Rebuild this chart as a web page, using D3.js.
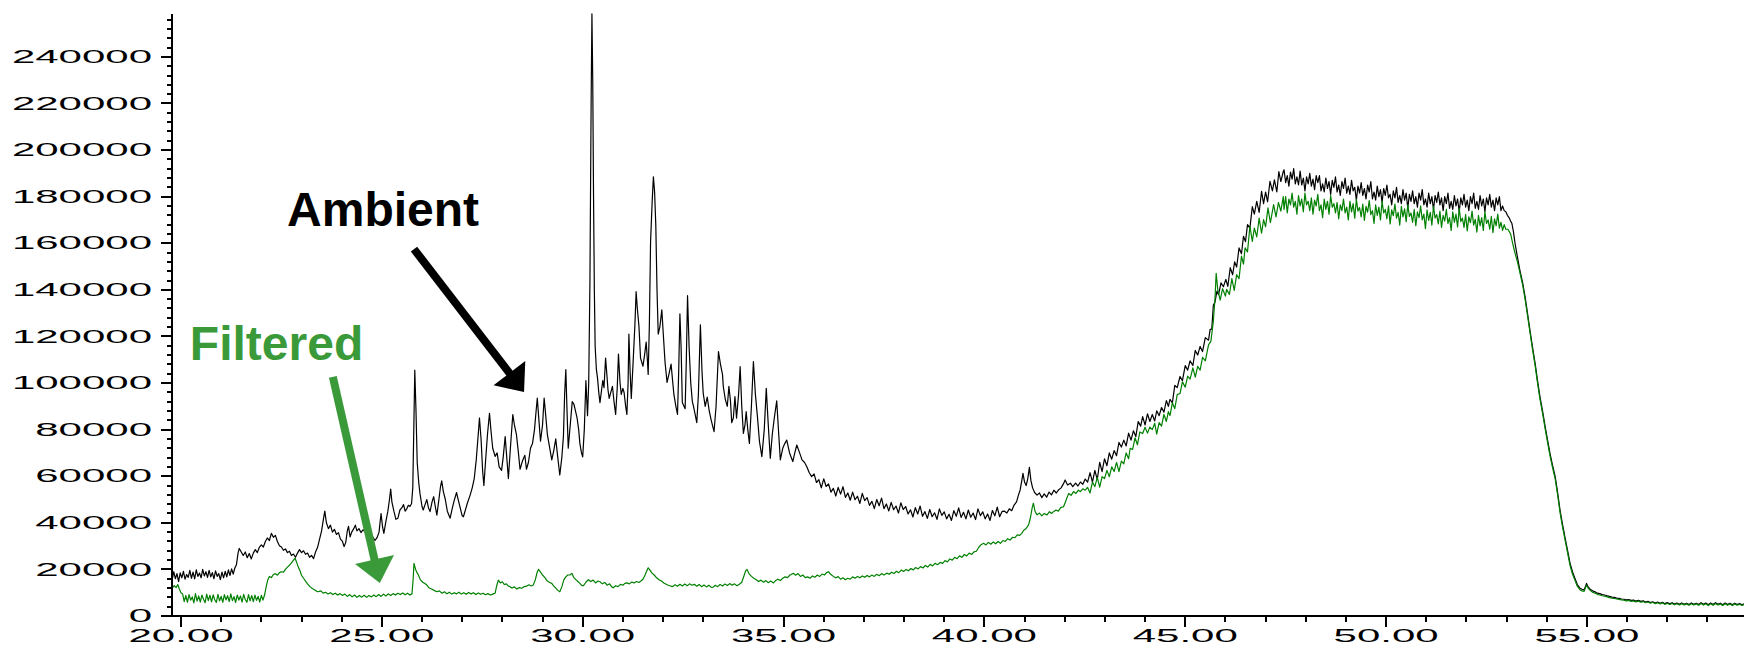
<!DOCTYPE html>
<html>
<head>
<meta charset="utf-8">
<script src="https://cdn.jsdelivr.net/npm/d3@7"></script>
<style>
  html, body { margin: 0; padding: 0; background: #fff; }
  svg { display: block; }
  text { font-family: "Liberation Sans", Arial, sans-serif; }
</style>
</head>
<body>
<script>
// ---- data (time in minutes, intensity in thousands of counts) ----
const ambientK = [
[19.78,15.5],[19.82,19.0],[19.86,16.0],[19.9,18.2],[19.94,14.8],[19.98,18.5],[20.02,16.4],[20.06,19.2],[20.1,15.8],[20.14,17.8],
[20.18,16.6],[20.22,19.6],[20.26,16.2],[20.3,18.8],[20.34,15.9],[20.38,19.8],[20.42,17.0],[20.46,18.4],[20.5,16.4],[20.54,20.0],
[20.58,17.2],[20.62,19.0],[20.66,16.6],[20.7,19.6],[20.74,16.8],[20.78,18.6],[20.82,16.0],[20.86,19.4],[20.9,17.0],[20.94,18.2],
[20.98,15.6],[21.02,18.8],[21.06,16.4],[21.1,19.2],[21.14,16.8],[21.18,19.8],[21.22,17.4],[21.26,20.2],[21.3,18.0],[21.34,20.6],
[21.38,22.0],[21.42,27.0],[21.45,29.0],[21.5,27.5],[21.55,26.0],[21.6,27.5],[21.65,25.0],[21.7,26.8],[21.75,24.5],
[21.8,27.0],[21.85,28.5],[21.9,27.2],[21.95,29.5],[22.0,30.5],[22.05,29.6],[22.1,32.0],[22.15,33.5],[22.2,32.4],[22.25,35.5],
[22.3,33.8],[22.35,34.6],[22.4,32.0],[22.45,30.2],[22.5,29.6],[22.55,28.2],[22.6,28.8],[22.65,27.2],[22.7,27.8],[22.75,26.0],
[22.8,26.6],[22.85,25.2],[22.9,27.0],[22.95,28.5],[23.0,27.2],[23.05,28.0],[23.1,26.5],[23.15,27.0],[23.2,25.2],[23.25,26.0],
[23.3,24.6],[23.35,27.5],[23.4,29.5],[23.45,33.0],[23.5,36.5],[23.55,42.0],[23.58,45.0],[23.62,40.0],[23.67,37.5],[23.72,39.0],
[23.77,36.0],[23.82,37.2],[23.87,35.0],[23.92,35.8],[23.97,33.0],[24.02,32.0],[24.06,29.8],[24.1,31.5],[24.14,36.5],[24.17,38.5],
[24.21,34.0],[24.25,36.0],[24.3,37.5],[24.34,39.0],[24.38,36.5],[24.43,37.5],[24.48,35.8],[24.53,37.0],[24.58,36.2],[24.63,34.5],
[24.68,34.8],[24.73,33.0],[24.78,33.8],[24.83,32.4],[24.88,33.6],[24.93,36.0],[24.98,44.0],[25.02,38.0],[25.05,35.5],[25.1,40.5],
[25.15,45.0],[25.19,50.0],[25.22,54.5],[25.25,49.0],[25.3,45.0],[25.35,41.5],[25.4,42.0],[25.45,45.5],[25.5,46.5],[25.54,47.8],
[25.58,45.0],[25.62,46.0],[25.66,47.5],[25.7,47.0],[25.74,48.3],[25.77,55.0],[25.8,85.0],[25.82,105.5],[25.85,88.0],[25.88,66.0],
[25.92,57.0],[25.95,52.5],[26.0,47.0],[26.03,45.5],[26.08,48.0],[26.12,50.0],[26.16,46.5],[26.2,44.8],[26.25,49.0],[26.29,51.2],
[26.33,47.0],[26.37,43.3],[26.42,50.0],[26.46,55.5],[26.49,58.0],[26.53,53.5],[26.58,50.0],[26.63,45.0],[26.7,42.0],[26.75,46.0],
[26.8,49.5],[26.86,53.0],[26.9,50.0],[26.95,46.5],[27.0,43.0],[27.03,42.6],[27.08,45.5],[27.13,48.5],[27.2,52.0],[27.25,55.0],
[27.3,59.0],[27.35,67.0],[27.4,78.0],[27.43,85.0],[27.47,76.0],[27.51,62.0],[27.54,56.0],[27.58,66.0],[27.63,78.0],[27.68,87.0],
[27.72,79.0],[27.76,72.0],[27.82,68.5],[27.87,70.0],[27.92,64.0],[27.98,62.5],[28.02,68.0],[28.07,77.0],[28.11,68.0],[28.15,59.0],
[28.2,72.0],[28.26,86.5],[28.3,82.0],[28.35,78.0],[28.4,70.0],[28.44,63.0],[28.5,66.5],[28.56,69.0],[28.6,63.0],[28.65,66.0],
[28.7,72.0],[28.75,74.0],[28.8,80.0],[28.84,88.0],[28.87,93.5],[28.91,84.0],[28.95,75.0],[29.0,82.0],[29.04,93.5],[29.08,86.0],
[29.12,78.0],[29.16,74.0],[29.2,70.0],[29.23,67.0],[29.28,71.0],[29.33,76.0],[29.38,68.0],[29.43,60.5],[29.48,68.0],[29.52,77.0],
[29.55,95.0],[29.58,105.8],[29.61,88.0],[29.64,72.0],[29.67,78.0],[29.7,84.0],[29.74,92.0],[29.78,91.0],[29.82,88.0],[29.86,85.0],
[29.9,80.0],[29.93,74.0],[29.97,70.0],[30.0,68.3],[30.04,80.0],[30.08,101.0],[30.12,86.0],[30.15,100.0],[30.18,143.0],[30.21,220.0],
[30.23,258.5],[30.25,230.0],[30.27,180.0],[30.29,140.0],[30.31,115.8],[30.34,106.0],[30.37,102.0],[30.4,96.0],[30.43,91.6],[30.47,97.0],
[30.5,101.0],[30.53,98.0],[30.57,110.7],[30.6,104.0],[30.63,97.0],[30.66,93.4],[30.7,96.0],[30.74,98.6],[30.78,92.0],[30.82,86.5],
[30.86,98.0],[30.89,112.4],[30.93,100.0],[30.96,95.1],[31.0,97.7],[31.03,96.0],[31.07,90.0],[31.1,86.5],[31.13,100.0],[31.15,121.0],
[31.18,105.0],[31.21,93.4],[31.26,110.7],[31.3,125.0],[31.33,139.2],[31.36,132.0],[31.4,124.5],[31.44,110.7],[31.5,107.2],[31.54,112.0],
[31.58,117.6],[31.61,110.0],[31.63,103.7],[31.66,125.0],[31.69,160.8],[31.73,178.0],[31.76,188.5],[31.79,182.0],[31.82,167.7],[31.85,140.0],
[31.88,121.0],[31.92,124.0],[31.97,131.4],[32.01,120.0],[32.05,108.9],[32.1,100.3],[32.15,104.0],[32.2,108.1],[32.27,95.1],[32.32,90.0],
[32.36,86.5],[32.39,105.0],[32.42,129.7],[32.45,115.0],[32.48,91.6],[32.55,89.0],[32.58,110.0],[32.61,137.5],[32.65,115.0],[32.69,100.0],
[32.73,92.0],[32.76,89.9],[32.84,83.0],[32.88,95.0],[32.93,125.0],[32.97,105.0],[33.0,95.6],[33.05,90.0],[33.1,94.0],[33.15,88.0],
[33.2,84.0],[33.27,79.1],[33.32,90.0],[33.38,113.5],[33.43,108.0],[33.48,103.7],[33.5,98.5],[33.55,93.0],[33.6,90.0],[33.64,98.6],
[33.68,92.0],[33.71,83.0],[33.75,85.0],[33.79,94.2],[33.83,84.9],[33.88,95.0],[33.92,107.0],[33.96,90.0],[34.0,78.4],[34.04,82.0],
[34.07,87.7],[34.11,80.0],[34.15,74.1],[34.2,90.0],[34.25,109.2],[34.3,95.0],[34.35,85.6],[34.4,75.0],[34.46,68.4],[34.52,80.0],
[34.57,97.7],[34.62,82.0],[34.67,67.7],[34.72,78.0],[34.77,85.0],[34.83,92.4],[34.88,78.0],[34.92,67.0],[34.98,72.0],[35.03,74.0],
[35.08,75.5],[35.15,70.0],[35.23,66.3],[35.28,70.0],[35.33,73.4],[35.4,70.0],[35.46,67.0],[35.52,66.0],[35.58,64.1],[35.64,61.5],
[35.7,59.8],[35.76,61.0],[35.82,57.3],[35.88,58.5],[35.94,55.0],[36.0,58.9],[36.06,55.6],[36.12,56.7],[36.18,53.2],[36.24,54.8],
[36.3,51.5],[36.36,55.2],[36.42,52.3],[36.48,55.5],[36.54,50.9],[36.6,52.8],[36.66,49.7],[36.72,53.2],[36.78,49.9],[36.84,51.4],
[36.9,48.3],[36.96,52.6],[37.02,49.5],[37.08,50.8],[37.14,47.5],[37.2,49.2],[37.26,46.1],[37.32,50.0],[37.38,47.3],[37.44,50.6],
[37.5,46.1],[37.56,48.1],[37.62,45.1],[37.68,48.8],[37.74,45.6],[37.8,47.2],[37.86,44.2],[37.92,48.6],[37.98,45.7],[38.04,47.0],
[38.1,43.8],[38.16,45.6],[38.22,42.5],[38.28,46.5],[38.34,43.8],[38.4,47.2],[38.46,42.8],[38.52,44.8],[38.58,41.9],[38.64,45.7],
[38.7,42.6],[38.76,44.3],[38.82,41.5],[38.88,46.0],[38.94,43.2],[39.0,44.7],[39.06,41.7],[39.12,43.7],[39.18,41.0],[39.24,45.2],
[39.3,42.8],[39.36,46.4],[39.42,42.3],[39.48,44.5],[39.54,41.7],[39.6,45.5],[39.66,42.4],[39.72,44.2],[39.78,41.4],[39.84,46.0],
[39.9,43.1],[39.96,44.7],[40.02,41.7],[40.08,43.8],[40.14,41.0],[40.2,45.3],[40.26,43.0],[40.32,46.7],[40.38,42.6],[40.44,44.9],
[40.5,45.0],[40.56,44.2],[40.62,46.0],[40.68,45.2],[40.74,47.6],[40.8,49.0],[40.85,52.0],[40.89,54.1],[40.93,58.0],[40.96,61.2],
[41.0,57.5],[41.04,56.0],[41.08,59.0],[41.12,63.8],[41.16,58.0],[41.2,55.0],[41.25,53.0],[41.31,51.9],[41.37,52.8],[41.43,50.8],
[41.49,52.4],[41.55,51.0],[41.61,53.2],[41.67,52.0],[41.73,54.0],[41.79,52.8],[41.85,54.2],[41.91,55.0],[41.97,56.8],[42.01,58.4],
[42.07,56.2],[42.14,57.0],[42.2,55.5],[42.27,57.0],[42.33,55.8],[42.39,57.5],[42.45,56.5],[42.51,58.8],[42.57,57.5],
[42.63,61.5],[42.69,57.5],[42.75,62.5],[42.81,58.5],[42.87,66.0],[42.93,62.0],[42.99,67.5],[43.05,64.5],[43.11,70.0],[43.17,67.3],
[43.23,71.0],[43.29,68.8],[43.35,74.5],[43.41,72.5],[43.47,75.5],[43.53,73.0],[43.59,78.5],[43.65,75.5],[43.71,79.5],[43.77,77.0],
[43.83,83.5],[43.89,81.5],[43.94,85.6],[44.0,82.0],[44.06,86.8],[44.12,83.5],[44.18,86.5],[44.24,83.7],[44.29,88.1],[44.35,86.0],
[44.41,89.5],[44.47,87.5],[44.53,92.5],[44.58,90.0],[44.62,93.0],[44.68,91.5],[44.74,99.0],[44.8,98.0],[44.87,102.8],[44.93,101.0],
[45.0,107.5],[45.06,105.5],[45.12,109.5],[45.19,107.5],[45.25,114.0],[45.31,112.0],[45.37,115.7],[45.43,113.5],[45.5,119.5],[45.58,118.4],
[45.62,123.0],[45.66,123.1],[45.7,133.5],[45.74,134.7],[45.79,139.5],[45.83,137.9],[45.89,143.0],[45.95,141.3],[46.01,144.5],[46.06,141.5],
[46.12,149.5],[46.18,146.5],[46.23,152.0],[46.28,149.8],[46.34,158.0],[46.4,155.5],[46.45,163.0],[46.5,160.7],[46.55,168.0],[46.61,166.5],
[46.67,175.7],[46.72,172.5],[46.78,178.0],[46.84,173.2],[46.9,182.3],[46.95,177.0],[47.0,182.0],[47.05,177.8],[47.11,186.6],[47.17,182.5],
[47.22,187.2],[47.28,182.0],[47.33,190.7],[47.38,186.5],[47.44,190.8],
[47.46,191.5],[47.5,186.0],[47.54,189.0],[47.58,184.5],[47.62,190.5],[47.66,187.5],[47.7,192.0],[47.74,185.5],[47.78,188.5],[47.82,185.0],[47.86,191.0],
[47.9,185.0],[47.94,188.0],[47.98,182.5],[48.02,188.5],[48.06,185.5],[48.1,190.0],[48.14,184.5],[48.18,187.5],[48.22,183.0],[48.26,189.0],[48.3,186.0],
[48.34,189.0],[48.38,182.5],[48.42,185.5],[48.46,182.0],[48.5,188.0],[48.54,183.5],[48.58,186.5],[48.62,181.0],[48.66,187.0],[48.7,184.0],[48.74,188.5],
[48.78,182.0],[48.82,185.0],[48.86,180.5],[48.9,186.5],[48.94,183.5],[48.98,188.0],[49.02,181.5],[49.06,184.5],[49.1,181.0],[49.14,187.0],[49.18,182.5],
[49.22,184.0],[49.26,178.5],[49.3,184.5],[49.34,181.5],[49.38,186.0],[49.42,180.5],[49.46,183.5],[49.5,179.0],[49.54,185.0],[49.58,182.0],[49.62,186.5],
[49.66,179.0],[49.7,182.0],[49.74,178.5],[49.78,184.5],[49.82,180.0],[49.86,183.0],[49.9,177.5],[49.94,183.5],[49.98,180.5],[50.02,185.0],[50.06,179.5],
[50.1,181.0],[50.14,176.5],[50.18,182.5],[50.22,179.5],[50.26,184.0],[50.3,177.5],[50.34,180.5],[50.38,177.0],[50.42,183.0],[50.46,178.5],[50.5,181.5],
[50.54,175.0],[50.58,181.0],[50.62,178.0],[50.66,182.5],[50.7,177.0],[50.74,180.0],[50.78,175.5],[50.82,181.5],[50.86,178.5],[50.9,183.0],[50.94,176.5],
[50.98,179.0],[51.02,175.5],[51.06,181.5],[51.1,177.0],[51.14,180.0],[51.18,174.5],[51.22,180.5],[51.26,177.5],[51.3,182.0],[51.34,176.5],[51.38,179.5],
[51.42,174.0],[51.46,180.0],[51.5,177.0],[51.54,181.5],[51.58,175.0],[51.62,178.0],[51.66,174.5],[51.7,180.5],[51.74,176.0],[51.78,179.0],[51.82,173.5],
[51.86,179.5],[51.9,176.5],[51.94,181.0],[51.98,175.5],[52.02,178.5],[52.06,174.0],[52.1,180.0],[52.14,177.0],[52.18,181.5],[52.22,175.0],[52.26,178.0],
[52.3,174.5],[52.34,180.5],[52.38,176.0],[52.42,179.0],[52.46,173.5],[52.5,179.5],[52.54,176.5],[52.58,181.0],[52.62,175.5],[52.66,178.5],[52.7,174.0],
[52.74,179.5],[52.78,176.5],[52.82,180.0],[52.86,174.0],[52.9,176.0],[52.94,174.0],[52.98,173.5],
[53.02,172.0],[53.06,171.0],[53.1,169.5],[53.13,168.6],
[53.17,165.0],[53.21,160.0],[53.27,154.0],[53.33,148.5],[53.4,143.0],[53.46,137.1],[53.52,130.0],[53.58,122.8],[53.64,116.0],[53.71,108.5],
[53.77,101.0],[53.83,94.2],[53.9,87.5],[53.96,81.3],[54.02,75.5],[54.08,69.8],[54.14,65.0],[54.21,59.8],[54.27,53.0],[54.33,45.5],
[54.39,39.5],[54.45,34.1],[54.52,28.0],[54.58,22.6],[54.64,19.0],[54.7,16.2],[54.76,13.5],[54.83,11.9],[54.88,11.5],[54.93,11.2],
[54.97,13.0],[54.99,14.0],[55.03,12.5],[55.08,11.5],[55.14,10.8],[55.2,10.4],[55.26,9.8],[55.32,9.6],[55.38,9.2],[55.44,9.0],
[55.5,8.7],[55.56,8.4],[55.62,8.1],[55.68,8.0],[55.74,7.7],[55.8,7.6],[55.86,7.3],[55.92,7.2],[55.98,6.9],[56.04,7.0],
[56.1,6.7],[56.16,6.8],[56.22,6.4],[56.28,6.7],[56.34,6.3],[56.4,6.5],[56.46,6.0],[56.52,6.3],[56.58,5.8],[56.64,6.1],
[56.7,5.6],[56.76,6.0],[56.82,5.5],[56.88,5.9],[56.94,5.3],[57.0,5.8],[57.06,5.2],[57.12,5.7],[57.18,5.1],[57.24,5.6],
[57.3,5.0],[57.36,5.6],[57.42,5.0],[57.48,5.5],[57.54,4.9],[57.6,5.6],[57.66,5.0],[57.72,5.5],[57.78,4.9],[57.84,5.7],
[57.9,5.0],[57.96,5.6],[58.02,4.8],[58.08,5.6],[58.14,4.9],[58.2,5.7],[58.26,5.0],[58.32,5.5],[58.38,4.8],[58.44,5.6],
[58.5,4.9],[58.56,5.5],[58.62,4.8],[58.68,5.5],[58.74,4.9],[58.8,5.4],[58.86,4.8],[58.91,5.2]
];

const filteredK = [
[19.78,12.0],[19.83,13.0],[19.88,12.2],[19.92,13.5],[19.96,11.5],[20.0,10.0],
[20.04,9.5],[20.08,6.2],[20.12,8.8],[20.16,5.9],[20.2,9.2],[20.24,6.8],[20.28,8.2],[20.32,5.6],[20.36,9.6],[20.4,6.4],
[20.44,8.6],[20.48,6.0],[20.52,9.0],[20.56,7.2],[20.6,5.7],[20.64,9.4],[20.68,6.6],[20.72,8.9],[20.76,6.1],[20.8,9.1],
[20.84,7.0],[20.88,5.8],[20.92,9.3],[20.96,6.5],[21.0,8.4],[21.04,5.9],[21.08,9.2],[21.12,6.9],[21.16,8.7],[21.2,6.2],
[21.24,9.5],[21.28,6.6],[21.32,8.3],[21.36,5.8],[21.4,9.0],[21.44,6.8],[21.48,8.6],[21.52,6.0],[21.56,9.3],[21.6,7.1],
[21.64,5.9],[21.68,9.2],[21.72,6.5],[21.76,8.8],[21.8,6.2],[21.84,9.0],[21.88,6.7],[21.92,8.4],[21.96,6.0],[22.0,8.9],
[22.04,6.8],[22.08,9.0],[22.12,12.5],[22.16,15.5],
[22.2,17.0],[22.25,16.5],[22.3,17.8],[22.35,18.2],[22.4,17.5],[22.45,18.6],[22.5,19.0],[22.55,18.8],[22.6,20.0],[22.65,21.0],
[22.7,21.8],[22.75,22.8],[22.8,24.0],[22.84,24.8],[22.88,23.0],[22.92,21.0],[22.96,19.5],[23.0,17.5],[23.05,16.2],[23.1,15.0],
[23.15,13.8],[23.21,12.6],[23.27,11.8],[23.33,11.2],[23.38,10.6],[23.42,10.4],[23.48,10.8],[23.54,9.8],[23.6,10.2],[23.66,9.4],
[23.72,10.0],[23.78,9.2],[23.84,9.8],[23.9,9.0],[23.96,9.6],[24.02,8.8],[24.08,9.4],[24.14,8.4],[24.2,9.2],[24.26,8.2],
[24.32,9.0],[24.38,8.0],[24.44,8.8],[24.5,8.1],[24.56,8.9],[24.62,8.0],[24.68,8.8],[24.74,8.2],[24.8,9.0],[24.86,8.3],
[24.92,9.2],[24.98,8.4],[25.04,9.4],[25.1,8.6],[25.16,9.5],[25.22,8.8],[25.28,9.6],[25.34,9.0],[25.4,9.8],[25.46,9.2],
[25.52,9.9],[25.58,9.1],[25.64,9.8],[25.7,9.0],[25.75,9.5],[25.78,16.0],[25.8,22.6],[25.84,20.0],[25.88,18.5],[25.91,17.6],
[25.96,15.5],[26.02,14.5],[26.08,13.8],[26.12,13.3],[26.18,12.0],[26.24,11.6],[26.3,11.0],[26.37,10.4],[26.43,10.8],[26.5,9.8],
[26.56,10.4],[26.62,9.5],[26.68,10.2],[26.74,9.4],[26.8,10.0],[26.86,9.5],[26.92,10.2],[26.98,9.4],[27.04,10.0],[27.1,9.3],
[27.16,10.1],[27.22,9.5],[27.28,10.0],[27.34,9.2],[27.4,9.9],[27.46,9.3],[27.52,9.8],[27.58,9.1],[27.64,9.6],[27.7,9.0],
[27.76,9.4],[27.82,9.8],[27.86,13.0],[27.9,15.4],[27.95,14.2],[28.0,14.7],[28.05,13.5],[28.1,13.8],[28.15,12.8],[28.19,12.6],
[28.24,12.0],[28.3,12.5],[28.36,11.6],[28.42,12.2],[28.48,11.9],[28.54,12.6],[28.6,12.8],[28.66,13.4],[28.72,12.9],[28.77,13.3],
[28.82,15.5],[28.87,19.0],[28.9,20.0],[28.95,18.8],[29.0,17.6],[29.06,16.5],[29.12,15.0],[29.18,14.4],[29.23,14.0],[29.28,12.8],
[29.33,12.0],[29.38,11.0],[29.43,10.4],[29.48,12.5],[29.53,15.5],[29.58,16.8],[29.63,17.6],[29.68,17.6],[29.73,18.3],[29.78,16.5],
[29.83,15.6],[29.88,14.8],[29.93,14.0],[29.98,13.0],[30.02,13.0],[30.08,14.5],[30.14,15.6],[30.2,14.8],[30.26,15.4],[30.32,14.2],
[30.38,15.0],[30.43,14.7],[30.49,13.8],[30.55,14.4],[30.61,13.2],[30.67,13.8],[30.73,12.4],[30.76,12.1],[30.82,13.0],[30.88,12.6],
[30.94,13.6],[31.0,13.2],[31.05,14.0],[31.1,14.2],[31.16,13.8],[31.22,14.6],[31.28,14.2],[31.34,14.8],[31.4,14.4],[31.45,15.0],
[31.5,15.8],[31.55,17.5],[31.6,19.5],[31.63,20.7],[31.67,19.8],[31.72,18.5],[31.78,17.6],[31.84,16.4],[31.9,15.6],[31.96,15.0],
[32.02,14.2],[32.08,13.6],[32.13,13.2],[32.17,13.0],[32.23,12.6],[32.3,13.4],[32.36,12.8],[32.42,13.6],[32.48,12.9],[32.54,13.7],
[32.6,13.0],[32.66,13.8],[32.72,13.2],[32.78,13.6],[32.84,12.8],[32.9,13.5],[32.96,12.6],[33.02,13.3],[33.08,12.5],[33.14,13.2],
[33.2,12.3],[33.25,12.4],[33.3,13.2],[33.36,12.6],[33.42,13.5],[33.48,12.9],[33.54,13.7],[33.6,13.1],[33.66,13.9],[33.72,13.2],
[33.78,13.8],[33.84,13.0],[33.9,13.6],[33.96,14.5],[34.02,17.5],[34.06,19.5],[34.09,20.0],[34.14,18.2],[34.2,17.0],[34.26,16.2],
[34.32,15.6],[34.38,14.8],[34.44,15.4],[34.5,14.5],[34.56,15.2],[34.62,14.3],[34.68,15.0],[34.75,14.2],[34.8,15.2],[34.86,15.8],
[34.92,15.2],[34.98,16.2],[35.04,16.8],[35.1,16.5],[35.16,17.6],[35.21,18.0],[35.25,18.3],[35.3,17.5],[35.36,18.2],[35.42,17.0],
[35.48,17.6],[35.54,16.5],[35.6,16.8],[35.66,16.2],[35.72,17.2],[35.78,16.6],[35.84,17.6],[35.9,17.0],[35.96,18.0],[36.02,17.6],
[36.07,18.6],[36.12,19.0],[36.18,17.8],[36.24,17.0],[36.3,16.4],[36.36,16.9],[36.42,15.8],[36.48,16.4],[36.54,15.6],[36.6,16.2],
[36.66,15.8],[36.72,16.8],[36.78,16.2],[36.84,17.0],[36.9,16.4],[36.96,17.2],[37.02,16.6],[37.08,17.4],[37.14,16.8],[37.2,17.6],
[37.26,17.0],[37.32,17.9],[37.38,17.3],[37.44,18.2],[37.5,17.6],[37.57,18.4],[37.63,17.9],[37.69,18.8],[37.75,18.2],[37.81,19.2],
[37.87,18.6],[37.93,19.7],[37.99,19.1],[38.05,20.0],[38.11,19.4],[38.17,20.4],[38.23,19.8],[38.29,20.8],[38.35,20.2],[38.41,21.2],
[38.47,20.6],[38.53,21.7],[38.59,21.0],[38.65,22.2],[38.71,21.5],[38.77,22.6],[38.83,22.0],[38.9,23.0],[38.96,22.6],[39.02,23.8],
[39.08,23.2],[39.14,24.5],[39.2,24.0],[39.26,25.2],[39.32,24.6],[39.38,25.8],[39.44,25.2],[39.5,26.4],[39.56,25.8],[39.62,27.0],
[39.68,26.4],[39.74,27.5],[39.8,27.8],[39.86,29.5],[39.92,30.6],[39.98,31.2],[40.04,30.5],[40.1,31.6],[40.16,30.8],[40.22,31.8],
[40.28,31.0],[40.34,32.0],[40.4,31.2],[40.46,32.4],[40.52,32.0],[40.58,33.2],[40.64,32.6],[40.7,33.8],[40.76,33.6],[40.82,34.8],
[40.88,34.6],[40.93,35.5],[40.98,36.8],[41.04,37.6],[41.1,39.1],[41.15,42.5],[41.19,46.5],[41.22,48.4],[41.26,45.0],[41.31,43.4],
[41.37,44.2],[41.43,43.0],[41.49,44.0],[41.56,43.4],[41.62,44.8],[41.67,44.0],[41.72,44.8],[41.78,45.5],[41.84,45.0],[41.9,46.5],
[41.97,46.9],[42.02,49.0],[42.06,51.0],[42.1,52.6],[42.16,51.8],[42.22,53.4],[42.28,52.6],[42.34,54.0],[42.39,53.4],[42.45,54.6],
[42.51,54.0],[42.57,55.2],
[42.63,52.8],[42.69,57.5],[42.75,55.5],[42.81,59.5],[42.87,55.3],[42.93,59.8],[42.99,59.0],[43.05,62.5],[43.11,59.8],[43.17,64.0],
[43.23,62.0],[43.29,65.9],[43.35,62.0],[43.41,66.5],[43.47,65.3],[43.53,70.0],[43.59,67.5],[43.63,72.0],[43.69,71.5],[43.75,76.5],
[43.81,73.5],[43.87,79.0],[43.94,78.3],[44.0,81.0],[44.06,78.5],[44.12,81.1],[44.18,80.0],[44.24,82.7],[44.29,78.1],[44.35,83.0],
[44.41,81.5],[44.47,86.5],[44.53,83.5],[44.58,87.7],[44.62,86.0],[44.68,91.5],[44.74,89.0],[44.8,95.0],[44.87,95.5],[44.93,100.5],
[45.0,98.2],[45.06,103.0],[45.12,101.7],[45.19,106.5],[45.25,102.5],[45.31,107.2],[45.37,105.5],[45.43,111.0],[45.5,109.5],[45.58,116.4],
[45.64,118.0],[45.7,126.7],[45.74,136.0],[45.77,147.1],[45.81,140.0],[45.87,135.6],[45.93,140.5],[46.0,137.3],[46.03,140.2],[46.1,138.0],
[46.16,144.8],[46.22,139.8],[46.28,146.5],[46.34,144.8],[46.4,154.5],[46.45,151.0],[46.49,158.0],[46.55,156.3],[46.61,167.3],[46.67,160.8],
[46.72,166.5],[46.78,162.7],[46.84,170.8],[46.9,164.3],[46.95,170.1],[47.0,167.0],[47.06,175.2],[47.12,168.8],[47.2,176.6],[47.26,171.3],
[47.32,177.5],[47.38,173.8],[47.44,180.0],
[47.46,174.5],[47.5,180.0],[47.54,173.0],[47.58,179.0],[47.62,176.5],[47.66,181.5],[47.7,175.5],[47.74,178.0],[47.78,172.5],[47.82,180.5],[47.86,176.0],
[47.9,179.0],[47.94,173.5],[47.98,181.5],[48.02,176.5],[48.06,178.0],[48.1,174.0],[48.14,179.5],[48.18,172.5],[48.22,178.5],[48.26,176.0],[48.3,181.0],
[48.34,174.0],[48.38,176.5],[48.42,171.0],[48.46,179.0],[48.5,174.5],[48.54,178.0],[48.58,172.5],[48.62,180.5],[48.66,175.5],[48.7,177.0],[48.74,173.0],
[48.78,177.5],[48.82,170.5],[48.86,176.5],[48.9,174.0],[48.94,179.0],[48.98,173.0],[49.02,175.5],[49.06,170.0],[49.1,178.0],[49.14,173.5],[49.18,177.0],
[49.22,170.8],[49.26,178.8],[49.3,173.8],[49.34,175.3],[49.38,171.3],[49.42,176.8],[49.46,169.8],[49.5,175.8],[49.54,173.3],[49.58,178.3],[49.62,172.3],
[49.66,174.0],[49.7,168.5],[49.74,176.5],[49.78,172.0],[49.82,175.5],[49.86,170.0],[49.9,178.0],[49.94,173.0],[49.98,174.5],[50.02,170.5],[50.06,176.0],
[50.1,168.3],[50.14,174.3],[50.18,171.8],[50.22,176.8],[50.26,170.8],[50.3,173.3],[50.34,167.8],[50.38,175.8],[50.42,171.3],[50.46,174.8],[50.5,169.3],
[50.54,176.5],[50.58,171.5],[50.62,173.0],[50.66,169.0],[50.7,174.5],[50.74,167.5],[50.78,173.5],[50.82,171.0],[50.86,176.0],[50.9,170.0],[50.94,172.5],
[50.98,166.3],[51.02,174.3],[51.06,169.8],[51.1,173.3],[51.14,167.8],[51.18,175.8],[51.22,170.8],[51.26,172.3],[51.3,168.3],[51.34,173.8],[51.38,166.8],
[51.42,172.0],[51.46,169.5],[51.5,174.5],[51.54,168.5],[51.58,171.0],[51.62,165.5],[51.66,173.5],[51.7,169.0],[51.74,172.5],[51.78,167.0],[51.82,175.0],
[51.86,169.3],[51.9,170.8],[51.94,166.8],[51.98,172.3],[52.02,165.3],[52.06,171.3],[52.1,168.8],[52.14,173.8],[52.18,167.8],[52.22,170.3],[52.26,164.8],
[52.3,172.0],[52.34,167.5],[52.38,171.0],[52.42,165.5],[52.46,173.5],[52.5,168.5],[52.54,170.0],[52.58,166.0],[52.62,171.5],[52.66,164.5],[52.7,170.5],
[52.74,167.5],[52.78,172.5],[52.82,166.5],[52.86,169.0],[52.9,165.5],[52.94,168.0],[52.98,166.0],[53.03,166.0],[53.1,164.0],
[53.15,160.0],[53.21,155.7],[53.27,152.0],[53.33,147.5],[53.4,142.0],[53.46,136.0],[53.52,129.0],[53.58,122.0],[53.64,115.0],[53.71,107.5],
[53.77,100.0],[53.83,93.2],[53.9,86.5],[53.96,80.3],[54.02,74.5],[54.08,68.8],[54.14,64.0],[54.21,58.8],[54.27,52.0],[54.33,44.5],
[54.39,38.5],[54.45,33.1],[54.52,27.0],[54.58,21.6],[54.64,18.0],[54.7,15.4],[54.76,12.8],[54.83,11.2],[54.88,10.8],[54.93,10.6],
[54.97,12.4],[54.99,13.2],[55.03,12.0],[55.08,11.0],[55.14,10.2],[55.2,9.8],[55.26,9.3],[55.32,9.0],[55.38,8.7],[55.44,8.5],
[55.5,8.2],[55.56,7.9],[55.62,7.7],[55.68,7.5],[55.74,7.3],[55.8,7.1],[55.86,6.9],[55.92,6.8],[55.98,6.5],[56.04,6.7],
[56.1,6.3],[56.16,6.5],[56.22,6.0],[56.28,6.4],[56.34,5.9],[56.4,6.2],[56.46,5.7],[56.52,6.0],[56.58,5.5],[56.64,5.9],
[56.7,5.3],[56.76,5.7],[56.82,5.2],[56.88,5.6],[56.94,5.0],[57.0,5.5],[57.06,4.9],[57.12,5.4],[57.18,4.8],[57.24,5.3],
[57.3,4.7],[57.36,5.3],[57.42,4.7],[57.48,5.2],[57.54,4.6],[57.6,5.3],[57.66,4.7],[57.72,5.2],[57.78,4.6],[57.84,5.4],
[57.9,4.7],[57.96,5.3],[58.02,4.5],[58.08,5.3],[58.14,4.6],[58.2,5.4],[58.26,4.7],[58.32,5.2],[58.38,4.5],[58.44,5.3],
[58.5,4.6],[58.56,5.2],[58.62,4.5],[58.68,5.2],[58.74,4.6],[58.8,5.1],[58.86,4.5],[58.91,4.9]
];

const xMajorTicks = [20, 25, 30, 35, 40, 45, 50, 55];
const xMinorTicks = [21,22,23,24,26,27,28,29,31,32,33,34,36,37,38,39,41,42,43,44,46,47,48,49,51,52,53,54,56,57,58];
const yMajorTicks = [0,20000,40000,60000,80000,100000,120000,140000,160000,180000,200000,220000,240000];
const xDomain = [19.776, 58.91];
const yDomain = [0, 258400];

// annotations in data coordinates: [time, intensity]
const labelAmbient = { text: "Ambient", at: [22.64, 167400] };
const labelFiltered = { text: "Filtered", at: [20.22, 109900] };
const arrowAmbient = { from: [25.80, 157500], to: [28.54, 96100] };
const arrowFiltered = { from: [23.78, 102600], to: [24.95, 14200] };

// ---- drawing ----
(function draw() {
  const W = 1744, H = 645;
  const pL = 172, pR = 1744, pT = 14, pB = 616;
  const svg = d3.select("body").append("svg").attr("width", W).attr("height", H);

  const x = d3.scaleLinear().domain(xDomain).range([pL, pR]);
  const y = d3.scaleLinear().domain(yDomain).range([pB, pT]);

  svg.append("defs").append("clipPath").attr("id", "plot")
    .append("rect").attr("x", pL).attr("y", pT - 1).attr("width", pR - pL).attr("height", pB - pT + 1);

  const line = d3.line().x(d => x(d[0])).y(d => y(d[1] * 1000));

  const plot = svg.append("g").attr("clip-path", "url(#plot)");
  plot.append("path").datum(ambientK).attr("d", line)
    .attr("fill", "none").attr("stroke", "#000").attr("stroke-width", 1.2).attr("stroke-linejoin", "round");
  plot.append("path").datum(filteredK).attr("d", line)
    .attr("fill", "none").attr("stroke", "#008000").attr("stroke-width", 1.2).attr("stroke-linejoin", "round");

  const axes = svg.append("g").attr("stroke", "#000").attr("stroke-width", 1.2).attr("shape-rendering", "crispEdges");
  axes.append("line").attr("x1", pL).attr("x2", pL).attr("y1", pT).attr("y2", pB);
  axes.append("line").attr("x1", pL - 11).attr("x2", pR).attr("y1", pB).attr("y2", pB);

  const yMinor = d3.range(0, yDomain[1], 4000).filter(v => v % 20000 !== 0);
  axes.selectAll(".ymin").data(yMinor).enter().append("line")
    .attr("x1", pL - 5).attr("x2", pL).attr("y1", d => Math.round(y(d))).attr("y2", d => Math.round(y(d)));
  axes.selectAll(".ymaj").data(yMajorTicks).enter().append("line")
    .attr("x1", pL - 11).attr("x2", pL).attr("y1", d => Math.round(y(d))).attr("y2", d => Math.round(y(d)));

  axes.selectAll(".xmin").data(xMinorTicks).enter().append("line")
    .attr("x1", d => Math.round(x(d))).attr("x2", d => Math.round(x(d))).attr("y1", pB).attr("y2", pB + 6);
  axes.selectAll(".xmaj").data(xMajorTicks).enter().append("line")
    .attr("x1", d => Math.round(x(d))).attr("x2", d => Math.round(x(d))).attr("y1", pB).attr("y2", pB + 11);

  const stretch = 2.4, fs = 17.5;
  svg.selectAll(".ylab").data(yMajorTicks).enter().append("g")
    .attr("transform", d => `translate(152,${y(d) + 6.2}) scale(${stretch},1)`)
    .append("text").attr("text-anchor", "end").attr("font-size", fs).attr("fill", "#000")
    .text(d => String(d));
  svg.selectAll(".xlab").data(xMajorTicks).enter().append("g")
    .attr("transform", d => `translate(${x(d)},641.8) scale(${stretch},1)`)
    .append("text").attr("text-anchor", "middle").attr("font-size", fs).attr("fill", "#000")
    .text(d => d.toFixed(2));

  function arrow(a, color) {
    const x0 = x(a.from[0]), y0 = y(a.from[1]), x1 = x(a.to[0]), y1 = y(a.to[1]);
    const dx = x1 - x0, dy = y1 - y0, len = Math.hypot(dx, dy), ux = dx / len, uy = dy / len;
    const headL = 24, headW = 20;
    const bx = x1 - ux * headL, by = y1 - uy * headL;
    svg.append("line").attr("x1", x0).attr("y1", y0).attr("x2", bx + ux * 2).attr("y2", by + uy * 2)
      .attr("stroke", color).attr("stroke-width", 8);
    svg.append("polygon")
      .attr("points", [[x1, y1], [bx - uy * headW, by + ux * headW], [bx + uy * headW, by - ux * headW]].map(p => p.join(",")).join(" "))
      .attr("fill", color);
  }
  arrow(arrowAmbient, "#000");
  arrow(arrowFiltered, "#3a9a3a");

  svg.append("text").attr("x", x(labelAmbient.at[0])).attr("y", y(labelAmbient.at[1]))
    .attr("font-size", 48).attr("font-weight", "bold").attr("fill", "#000").text(labelAmbient.text);
  svg.append("text").attr("x", x(labelFiltered.at[0])).attr("y", y(labelFiltered.at[1]))
    .attr("font-size", 48).attr("font-weight", "bold").attr("fill", "#3a9a3a").text(labelFiltered.text);
})();
</script>
</body>
</html>
